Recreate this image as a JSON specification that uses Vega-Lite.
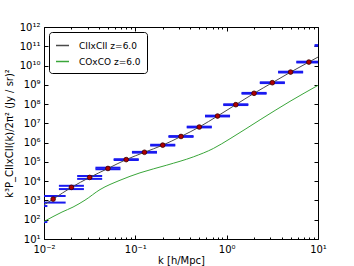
{
  "$schema": "https://vega.github.io/schema/vega-lite/v6.json",
  "width": 274,
  "height": 212,
  "autosize": "none",
  "padding": {"left": 44, "top": 27, "right": 36, "bottom": 27},
  "datasets": {
    "pts": [
      {"k": 0.007943, "klo": 0.005794, "khi": 0.010889, "v": 199.5, "ylo": 75.9, "yhi": 512.9},
      {"k": 0.012589, "klo": 0.009183, "khi": 0.017258, "v": 1175, "ylo": 776.2, "yhi": 1698},
      {"k": 0.019953, "klo": 0.014555, "khi": 0.027353, "v": 4786, "ylo": 3890, "yhi": 5754},
      {"k": 0.031623, "klo": 0.023067, "khi": 0.043351, "v": 15668, "ylo": 13183, "yhi": 18621},
      {"k": 0.050119, "klo": 0.036559, "khi": 0.068707, "v": 45709, "ylo": 41687, "yhi": 50119},
      {"k": 0.079433, "klo": 0.057943, "khi": 0.10889, "v": 131826, "ylo": 125893, "yhi": 138038},
      {"k": 0.125893, "klo": 0.091833, "khi": 0.172584, "v": 316228, "ylo": 301995, "yhi": 331131},
      {"k": 0.199526, "klo": 0.145546, "khi": 0.273527, "v": 741310, "ylo": 707946, "yhi": 776247},
      {"k": 0.316228, "klo": 0.230675, "khi": 0.433511, "v": 2089296, "ylo": 1995262, "yhi": 2187762},
      {"k": 0.501187, "klo": 0.365595, "khi": 0.687068, "v": 6456542, "ylo": 6165950, "yhi": 6760830},
      {"k": 0.794328, "klo": 0.579429, "khi": 1.08893, "v": 23988329, "ylo": 22908677, "yhi": 25118864},
      {"k": 1.258925, "klo": 0.918333, "khi": 1.725837, "v": 93325430, "ylo": 89125094, "yhi": 97723722},
      {"k": 1.995262, "klo": 1.455459, "khi": 2.735269, "v": 363078055, "ylo": 346736850, "yhi": 380189396},
      {"k": 3.162278, "klo": 2.306747, "khi": 4.335109, "v": 1288249552, "ylo": 1230268771, "yhi": 1348962883},
      {"k": 5.011872, "klo": 3.655948, "khi": 6.870684, "v": 4570881896, "ylo": 4365158322, "yhi": 4786300923},
      {"k": 7.943282, "klo": 5.794287, "khi": 10.8893, "v": 15135612484, "ylo": 14454397707, "yhi": 15848931925},
      {"k": 12.589254, "klo": 9.183326, "khi": 17.258378, "v": 50118723363, "ylo": 104712854805, "yhi": 114815362150}
    ],
    "lines": [
      {"series": "CIIxCII z=6.0", "k": 0.01, "v": 588.8},
      {"series": "CIIxCII z=6.0", "k": 0.012589, "v": 1175},
      {"series": "CIIxCII z=6.0", "k": 0.019953, "v": 4786},
      {"series": "CIIxCII z=6.0", "k": 0.031623, "v": 15668},
      {"series": "CIIxCII z=6.0", "k": 0.050119, "v": 45709},
      {"series": "CIIxCII z=6.0", "k": 0.079433, "v": 131826},
      {"series": "CIIxCII z=6.0", "k": 0.125893, "v": 316228},
      {"series": "CIIxCII z=6.0", "k": 0.199526, "v": 741310},
      {"series": "CIIxCII z=6.0", "k": 0.316228, "v": 2089296},
      {"series": "CIIxCII z=6.0", "k": 0.501187, "v": 6456542},
      {"series": "CIIxCII z=6.0", "k": 0.794328, "v": 23988329},
      {"series": "CIIxCII z=6.0", "k": 1.258925, "v": 93325430},
      {"series": "CIIxCII z=6.0", "k": 1.995262, "v": 363078055},
      {"series": "CIIxCII z=6.0", "k": 3.162278, "v": 1288249552},
      {"series": "CIIxCII z=6.0", "k": 5.011872, "v": 4570881896},
      {"series": "CIIxCII z=6.0", "k": 7.943282, "v": 15135612484},
      {"series": "CIIxCII z=6.0", "k": 10, "v": 27542287033},
      {"series": "COxCO z=6.0", "k": 0.01, "v": 80.7},
      {"series": "COxCO z=6.0", "k": 0.01574, "v": 250.0},
      {"series": "COxCO z=6.0", "k": 0.020797, "v": 453.9},
      {"series": "COxCO z=6.0", "k": 0.028119, "v": 1037.5},
      {"series": "COxCO z=6.0", "k": 0.04102, "v": 3656},
      {"series": "COxCO z=6.0", "k": 0.06792, "v": 11169},
      {"series": "COxCO z=6.0", "k": 0.11246, "v": 27102},
      {"series": "COxCO z=6.0", "k": 0.2208, "v": 67764},
      {"series": "COxCO z=6.0", "k": 0.431519, "v": 182390},
      {"series": "COxCO z=6.0", "k": 0.714496, "v": 496592},
      {"series": "COxCO z=6.0", "k": 1.08893, "v": 1595879},
      {"series": "COxCO z=6.0", "k": 2.322737, "v": 15346170},
      {"series": "COxCO z=6.0", "k": 4.943107, "v": 139315680},
      {"series": "COxCO z=6.0", "k": 10, "v": 937562300}
    ]
  },
  "layer": [
    {
      "data": {"name": "pts"},
      "mark": {"type": "rule", "color": "#1a1af0", "strokeWidth": 2, "clip": true},
      "encoding": {
        "x": {"field": "klo", "type": "quantitative", "scale": {"type": "log", "domain": [0.01, 10]},
          "axis": {"orient": "bottom", "values": [0.01, 0.1, 1, 10], "tickSize": -4, "labelPadding": 9, "labelFlush": false, "title": "k [h/Mpc]", "titlePadding": 1,
            "labelExpr": "datum.value < 0.05 ? '10⁻²' : datum.value < 0.5 ? '10⁻¹' : datum.value < 5 ? '10⁰' : '10¹'"}},
        "x2": {"field": "khi"},
        "y": {"field": "ylo", "type": "quantitative", "scale": {"type": "log", "domain": [10, 1000000000000]},
          "axis": {"orient": "left", "values": [10, 100, 1000, 10000, 100000, 1000000, 10000000, 100000000, 1000000000, 10000000000, 100000000000, 1000000000000], "tickSize": -4, "labelPadding": 8, "labelFlush": false, "title": "k³P_CIIxCII(k)/2π² (Jy / sr)²", "titlePadding": 5,
            "labelExpr": "'10' + ['⁰','¹','²','³','⁴','⁵','⁶','⁷','⁸','⁹','¹⁰','¹¹','¹²'][round(log(datum.value)/LN10)]"}}
      }
    },
    {
      "data": {"name": "pts"},
      "mark": {"type": "rule", "color": "#1a1af0", "strokeWidth": 2, "clip": true},
      "encoding": {
        "x": {"field": "klo", "type": "quantitative", "scale": {"type": "log", "domain": [0.01, 10]},
          "axis": {"orient": "top", "values": [0.01, 0.1, 1, 10], "tickSize": -4, "labels": false, "title": null}},
        "x2": {"field": "khi"},
        "y": {"field": "yhi", "type": "quantitative", "scale": {"type": "log", "domain": [10, 1000000000000]},
          "axis": {"orient": "right", "values": [10, 100, 1000, 10000, 100000, 1000000, 10000000, 100000000, 1000000000, 10000000000, 100000000000, 1000000000000], "tickSize": -4, "labels": false, "title": null}}
      }
    },
    {
      "data": {"name": "lines"},
      "transform": [{"filter": "datum.series == 'CIIxCII z=6.0'"}],
      "mark": {"type": "line", "strokeWidth": 1, "clip": true, "interpolate": "monotone"},
      "encoding": {
        "x": {"field": "k", "type": "quantitative", "scale": {"type": "log", "domain": [0.01, 10]},
          "axis": {"orient": "bottom", "values": [0.02, 0.03, 0.04, 0.05, 0.06, 0.07, 0.08, 0.09, 0.2, 0.3, 0.4, 0.5, 0.6, 0.7, 0.8, 0.9, 2, 3, 4, 5, 6, 7, 8, 9], "tickSize": -2, "labels": false, "title": null}},
        "y": {"field": "v", "type": "quantitative", "scale": {"type": "log", "domain": [10, 1000000000000]}, "axis": null},
        "color": {"field": "series", "type": "nominal",
          "scale": {"domain": ["CIIxCII z=6.0", "COxCO z=6.0"], "range": ["#4a4a4a", "#3aa63a"]},
          "legend": {"title": null, "orient": "top-left", "offset": 5, "strokeColor": "#000", "fillColor": "#fff", "padding": 6, "cornerRadius": 3,
            "symbolType": "stroke", "symbolSize": 169, "symbolStrokeWidth": 1.5, "labelFontSize": 9, "labelFont": "DejaVu Sans", "labelColor": "#000", "rowPadding": 3, "labelOffset": 9}}
      }
    },
    {
      "data": {"name": "lines"},
      "transform": [{"filter": "datum.series == 'COxCO z=6.0'"}],
      "mark": {"type": "line", "strokeWidth": 1, "clip": true, "interpolate": "monotone"},
      "encoding": {
        "x": {"field": "k", "type": "quantitative", "scale": {"type": "log", "domain": [0.01, 10]},
          "axis": {"orient": "top", "values": [0.02, 0.03, 0.04, 0.05, 0.06, 0.07, 0.08, 0.09, 0.2, 0.3, 0.4, 0.5, 0.6, 0.7, 0.8, 0.9, 2, 3, 4, 5, 6, 7, 8, 9], "tickSize": -2, "labels": false, "title": null}},
        "y": {"field": "v", "type": "quantitative", "scale": {"type": "log", "domain": [10, 1000000000000]}, "axis": null},
        "color": {"field": "series", "type": "nominal"}
      }
    },
    {
      "data": {"name": "pts"},
      "mark": {"type": "point", "shape": "circle", "filled": true, "fill": "#b00000", "stroke": "#3a0000", "strokeWidth": 0.8, "size": 22, "opacity": 1, "clip": true},
      "encoding": {
        "x": {"field": "k", "type": "quantitative", "scale": {"type": "log", "domain": [0.01, 10]}, "axis": null},
        "y": {"field": "v", "type": "quantitative", "scale": {"type": "log", "domain": [10, 1000000000000]}, "axis": null}
      }
    }
  ],
  "resolve": {"axis": {"x": "independent", "y": "independent"}},
  "config": {
    "font": "DejaVu Sans",
    "view": {"stroke": "#000", "strokeWidth": 1},
    "axis": {"domain": false, "grid": false, "tickColor": "#000", "labelColor": "#000", "titleColor": "#000", "labelFont": "DejaVu Sans", "titleFont": "DejaVu Sans", "labelFontSize": 10, "titleFontSize": 10, "titleFontWeight": "normal"}
  }
}
